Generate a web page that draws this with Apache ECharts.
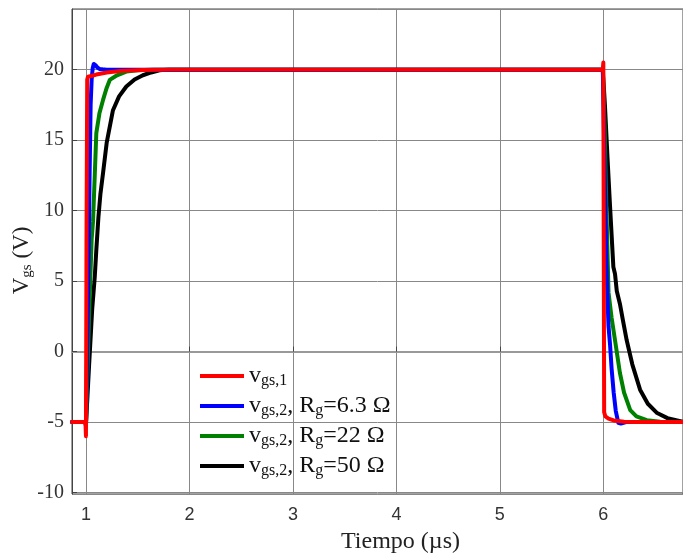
<!DOCTYPE html>
<html><head><meta charset="utf-8">
<script src="https://cdn.jsdelivr.net/npm/echarts@6/dist/echarts.min.js"></script>
<style>html,body{margin:0;padding:0;background:#fff}#c{width:683px;height:554px}</style>
</head><body><div id="c"></div>
<script>
// Data (time in µs, voltage in V)
const redT   = [0.865, 0.995, 1.0, 1.005, 1.012, 1.02, 1.05, 1.1, 1.2, 1.35, 1.55, 1.8, 5.995, 6.0, 6.004, 6.008, 6.02, 6.05, 6.1, 6.2, 6.3, 6.77];
const redV   = [-5, -5, -6, 7.5, 19.3, 19.5, 19.55, 19.65, 19.8, 19.92, 19.98, 20, 20, 20.5, 8, -4.3, -4.6, -4.75, -4.88, -4.97, -5, -5];
const blueT  = [0.865, 0.995, 1.0, 1.02, 1.035, 1.045, 1.055, 1.065, 1.075, 1.085, 1.095, 1.11, 1.13, 1.16, 1.2, 1.3, 5.995, 6.0, 6.01, 6.03, 6.05, 6.065, 6.08, 6.1, 6.12, 6.145, 6.17, 6.22, 6.77];
const blueV  = [-5, -5, -5.3, 4, 12.5, 17.5, 19.3, 20.1, 20.4, 20.45, 20.3, 20.15, 20.05, 20.02, 20, 20, 20, 20, 14, 6, 1.8, 0.5, -1.2, -2.9, -4.2, -5.05, -5.1, -5, -5];
const greenT = [0.865, 0.995, 1.0, 1.03, 1.055, 1.068, 1.075, 1.085, 1.1, 1.13, 1.165, 1.2, 1.23, 1.3, 1.39, 1.5, 1.65, 1.8, 5.995, 6.0, 6.012, 6.03, 6.05, 6.08, 6.113, 6.16, 6.2, 6.26, 6.32, 6.42, 6.55, 6.77];
const greenV = [-5, -5, -5.2, 2.5, 8, 9.2, 9.3, 12.5, 15.5, 16.9, 17.85, 18.7, 19.27, 19.6, 19.86, 19.95, 20, 20, 20, 20, 16, 10, 4.2, 2.4, 0.8, -1.5, -2.9, -4.15, -4.6, -4.86, -4.97, -5];
const blackT = [0.865, 0.995, 1.0, 1.03, 1.06, 1.085, 1.1, 1.116, 1.12, 1.14, 1.165, 1.2, 1.26, 1.32, 1.39, 1.47, 1.55, 1.63, 1.71, 1.8, 1.9, 5.995, 6.0, 6.016, 6.04, 6.065, 6.097, 6.113, 6.13, 6.16, 6.19, 6.226, 6.28, 6.355, 6.43, 6.52, 6.62, 6.77];
const blackV = [-5, -5, -5.2, -1, 3, 5.3, 7.2, 7.3, 9.5, 11.2, 12.66, 14.8, 17.1, 18.1, 18.8, 19.3, 19.6, 19.8, 19.95, 20, 20, 20, 20, 17.4, 13.8, 10.3, 6.0, 5.5, 4.3, 3.4, 2.2, 0.8, -0.9, -2.7, -3.7, -4.36, -4.72, -4.98];

const yTicks = [-10, -5, 0, 5, 10, 15, 20];
const xTicks = [1, 2, 3, 4, 5, 6];

const legendNames = ['vgs1', 'vgs2a', 'vgs2b', 'vgs2c'];
const legendLabels = {
  vgs1:  '{v|v}{s|gs,1}',
  vgs2a: '{v|v}{s|gs,2}{v|, R}{s|g}{v|=6.3 Ω}',
  vgs2b: '{v|v}{s|gs,2}{v|, R}{s|g}{v|=22 Ω}',
  vgs2c: '{v|v}{s|gs,2}{v|, R}{s|g}{v|=50 Ω}'
};

function pairs(t, v){ return t.map((x,i)=>[x, v[i]]); }

const chart = echarts.init(document.getElementById('c'), null, {renderer:'canvas'});
const serif = 'Liberation Serif, Times New Roman, serif';
const mk = (name, t, v, color) => ({
  name, type:'line', data: pairs(t, v), symbol:'none', smooth:false,
  lineStyle:{color, width:4, join:'round', cap:'round'}, itemStyle:{color}, animation:false
});
chart.setOption({
  animation:false,
  grid:{left:72, right:0, top:9, bottom:60, show:true, borderColor:'#444', borderWidth:1, containLabel:false, outerBoundsMode:'none'},
  xAxis:{
    type:'value', min:0.865, max:6.77, splitNumber:6,
    name:'Tiempo (µs)', nameLocation:'middle', nameGap:36, nameMoveOverlap:false,
    nameTextStyle:{fontFamily:serif, fontSize:24, color:'#222', padding:[0,0,0,46]},
    axisLine:{show:true, lineStyle:{color:'#999', width:2}},
    axisTick:{show:true, inside:true, length:5, lineStyle:{color:'#444'}},
    axisLabel:{fontFamily:'Liberation Sans, Arial, sans-serif', fontSize:18, color:'#333', margin:12,
      showMinLabel:false, showMaxLabel:false,
      formatter:v=> xTicks.includes(Math.round(v*1000)/1000) ? String(Math.round(v)) : ''},
    splitLine:{show:true, lineStyle:{color:'#888', width:1}}
  },
  yAxis:{
    type:'value', min:-10.1, max:24.3, splitNumber:7,
    name:'{V|V}{s|gs}{V| (V)}', nameLocation:'middle', nameGap:37, nameMoveOverlap:false,
    nameTextStyle:{padding:[0,18,0,0], rich:{
      V:{fontFamily:serif, fontSize:23, color:'#222', lineHeight:26},
      s:{fontFamily:serif, fontSize:15, color:'#222', lineHeight:26, verticalAlign:'bottom', padding:[10,0,0,0]}
    }},
    axisLine:{show:true, lineStyle:{color:'#444', width:1}},
    axisTick:{show:true, inside:true, length:5, lineStyle:{color:'#444'}},
    axisLabel:{fontFamily:serif, fontSize:20, color:'#333', margin:8,
      showMinLabel:false, showMaxLabel:false,
      formatter:v=> yTicks.includes(Math.round(v*1000)/1000) ? String(Math.round(v)) : ''},
    splitLine:{show:true, lineStyle:{color:'#888', width:1}}
  },
  legend:{
    data:legendNames, orient:'vertical', left:195, top:358, itemGap:4,
    itemWidth:44, itemHeight:4, icon:'rect',
    formatter:n=>legendLabels[n],
    textStyle:{rich:{
      v:{fontFamily:serif, fontSize:24, color:'#111', lineHeight:26},
      s:{fontFamily:serif, fontSize:16, color:'#111', lineHeight:26, verticalAlign:'bottom', padding:[10,0,0,0]}
    }}
  },
  series:[
    mk('vgs2c', blackT, blackV, '#000000'),
    mk('vgs2b', greenT, greenV, '#008000'),
    mk('vgs2a', blueT, blueV, '#0000ff'),
    mk('vgs1', redT, redV, '#ff0000')
  ]
});
</script></body></html>
